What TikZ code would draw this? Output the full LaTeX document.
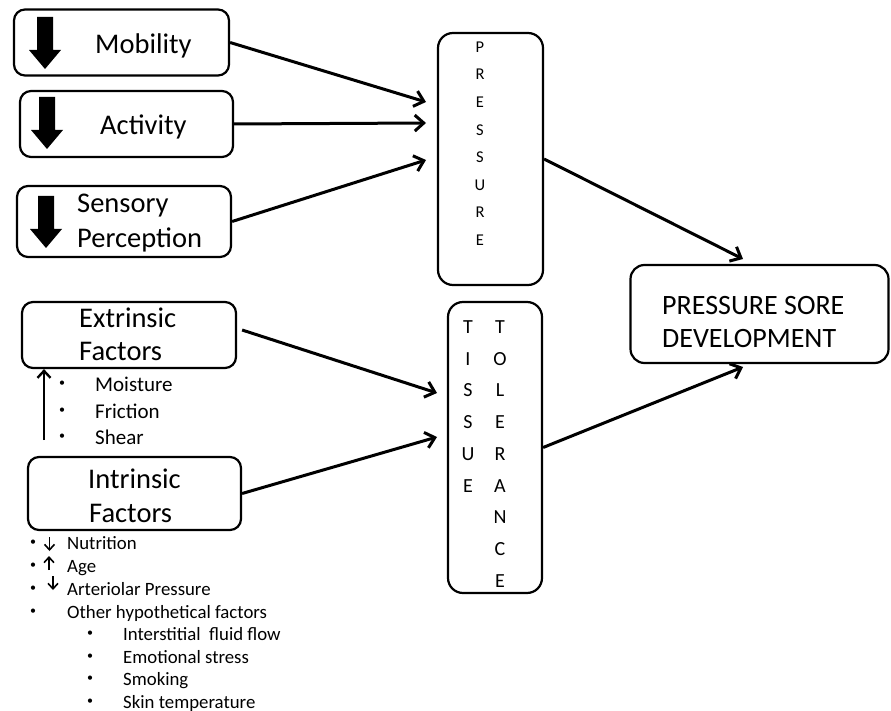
\documentclass[tikz,border=0pt]{standalone}
\usepackage{fontspec}
\setmainfont{Carlito}
\usetikzlibrary{arrows.meta}
\begin{document}
\begin{tikzpicture}[x=1pt,y=-1pt,
  box/.style={draw, line width=2.2pt, rounded corners=11pt, inner sep=0pt},
  link/.style={line width=3pt, -{Straight Barb[length=9pt,width=16pt]}},
  thinlink/.style={line width=2.4pt, -{Straight Barb[length=7pt,width=13pt]}},
  tiny/.style={line width=1.6pt, -{Straight Barb[length=5.5pt,width=10pt]}},
  big/.style={font=\fontsize{28.5}{33}\selectfont, inner sep=0pt, anchor=base west},
  extitem/.style={font=\fontsize{21}{25}\selectfont, inner sep=0pt, anchor=base west},
  intitem/.style={font=\fontsize{18.8}{22}\selectfont, inner sep=0pt, anchor=base west},
  dot/.style={font=\fontsize{12}{14}\selectfont, inner sep=0pt, anchor=center},
  bigdown/.pic={\fill (-8,0) -- (8,0) -- (8,33) -- (16,33) -- (0,52) -- (-16,33) -- (-8,33) -- cycle;}]
\useasboundingbox (0,0) rectangle (891,711);

% factor boxes on the left
\node[box, minimum width=215pt, minimum height=66pt] (mob) at (121.5,42.5) {};
\node[box, minimum width=213pt, minimum height=66pt] (act) at (126.5,124) {};
\node[box, minimum width=214pt, minimum height=71pt] (sen) at (124,221.5) {};
\node[box, minimum width=214pt, minimum height=66pt] (ext) at (129,335) {};
\node[box, minimum width=213pt, minimum height=73pt] (int) at (134.5,493.5) {};

% central and final boxes
\node[box, rounded corners=15pt, minimum width=105pt, minimum height=252pt] (press) at (490.5,159) {};
\node[box, rounded corners=15pt, minimum width=94pt, minimum height=291pt] (tis) at (495,447.5) {};
\node[box, rounded corners=14pt, minimum width=258pt, minimum height=98pt] (psd) at (759.5,314) {};

% thick down arrows
\pic at (45,17) {bigdown};
\pic at (47,97) {bigdown};
\pic at (46,196) {bigdown};

% box texts
\node[big] (tmob) at (95,54) {Mobility};
\node[big] (tact) at (100,135) {Activity};
\node[big] (tsen1) at (77,213) {Sensory};
\node[big] (tsen2) at (77,248) {Perception};
\node[big] (text1) at (79,327) {Extrinsic};
\node[big] (text2) at (79,360) {Factors};
\node[big] (tint1) at (88,488) {Intrinsic};
\node[big] (tint2) at (89,522) {Factors};
\node[big, font=\fontsize{28}{33}\selectfont] (tpsd1) at (662,314) {PRESSURE SORE};
\node[big, font=\fontsize{28}{33}\selectfont] (tpsd2) at (662,347) {DEVELOPMENT};

% vertical words
\node[anchor=north, inner sep=0pt, align=center, font=\fontsize{16.5}{27.6}\selectfont] (wpress) at (480,41.5)
  {P\\R\\E\\S\\S\\U\\R\\E};
\node[anchor=north, inner sep=0pt, align=center, font=\fontsize{20}{31.7}\selectfont] (wtis) at (468,320.5)
  {T\\I\\S\\S\\U\\E};
\node[anchor=north, inner sep=0pt, align=center, font=\fontsize{20}{31.7}\selectfont] (wtol) at (500,320.5)
  {T\\O\\L\\E\\R\\A\\N\\C\\E};

% extrinsic factor list
\node[dot] (ed1) at (62,384) {•};
\node[dot] (ed2) at (62,411) {•};
\node[dot] (ed3) at (62,437) {•};
\node[extitem] (ei1) at (95,391) {Moisture};
\node[extitem] (ei2) at (95,418) {Friction};
\node[extitem] (ei3) at (95,444) {Shear};

% intrinsic factor list
\node[dot] (id1) at (33,543) {•};
\node[dot] (id2) at (33,566) {•};
\node[dot] (id3) at (33,589) {•};
\node[dot] (id4) at (33,612) {•};
\node[dot] (id5) at (90,634) {•};
\node[dot] (id6) at (90,657) {•};
\node[dot] (id7) at (90,679) {•};
\node[dot] (id8) at (90,702) {•};
\node[intitem] (ii1) at (67,549) {Nutrition};
\node[intitem] (ii2) at (67,572) {Age};
\node[intitem] (ii3) at (67,595) {Arteriolar Pressure};
\node[intitem] (ii4) at (67,618) {Other hypothetical factors};
\node[intitem] (ii5) at (123,640) {Interstitial~ fluid flow};
\node[intitem] (ii6) at (123,663) {Emotional stress};
\node[intitem] (ii7) at (123,685) {Smoking};
\node[intitem] (ii8) at (123,708) {Skin temperature};

% small trend arrows in the list
\coordinate (na) at (49.5,537);
\coordinate (nb) at (49.5,551);
\coordinate (aa) at (49,570);
\coordinate (ab) at (49,556);
\coordinate (pa) at (53,576);
\coordinate (pb) at (53,590);
\draw[tiny] (na) -- (nb);
\draw[tiny] (aa) -- (ab);
\draw[tiny] (pa) -- (pb);

% connectors
\coordinate (p1) at (426,102);
\coordinate (p2) at (426,123);
\coordinate (p3) at (426,160);
\coordinate (t1) at (437,393);
\coordinate (t2) at (437,437);
\coordinate (s1) at (743,259);
\coordinate (s2) at (743,367);
\coordinate (up) at (44,440);

\draw[link] (mob.east) -- (p1);
\draw[link] (act.east) -- (p2);
\draw[link] (sen.east) -- (p3);
\draw[link] (ext.east) ++(5,-5) -- (t1);
\draw[link] (int.east) -- (t2);
\draw[link] (press.east) -- (s1);
\draw[link] (tis.east) -- (s2);
\draw[thinlink] (up) -- (up |- ext.south);
\end{tikzpicture}
\end{document}
